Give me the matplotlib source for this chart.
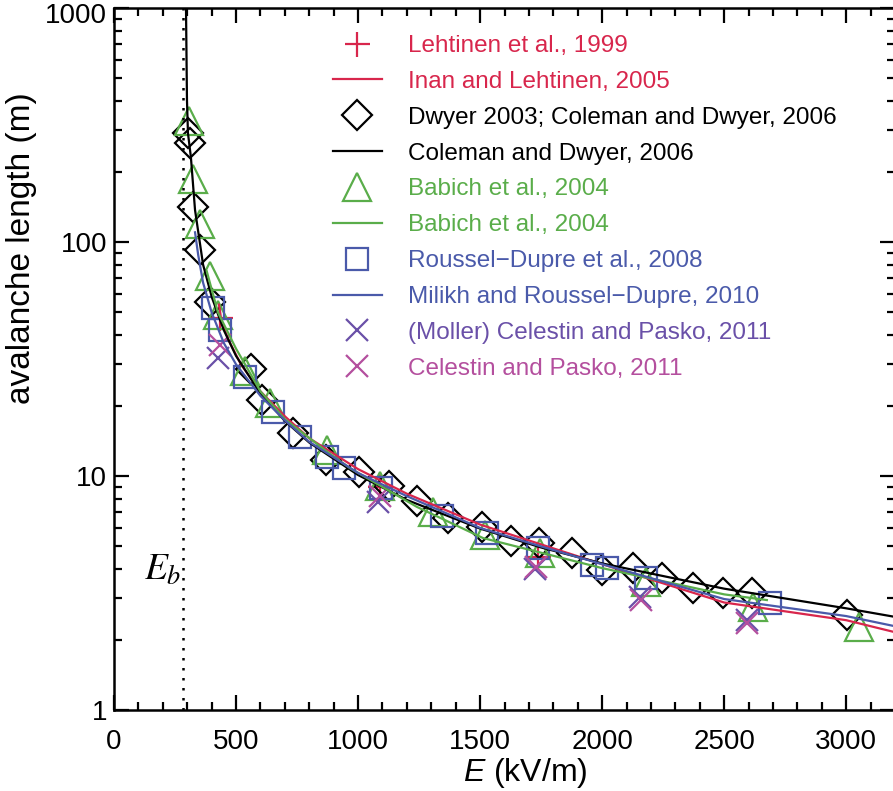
import matplotlib
matplotlib.use("Agg")
import matplotlib.pyplot as plt
import matplotlib.transforms as mtransforms
from matplotlib.ticker import FixedLocator, NullFormatter, LogLocator

plt.rcParams['font.family'] = ['Liberation Sans', 'DejaVu Sans']
plt.rcParams['mathtext.fontset'] = 'custom'
plt.rcParams['mathtext.it'] = 'Liberation Sans:italic'
plt.rcParams['mathtext.rm'] = 'Liberation Sans'

# ---- data (E in kV/m, avalanche length in m) ----
lehtinen_E = [434, 1090, 1737]
lehtinen_L = [47.4, 8.98, 4.51]

inan_E = [430, 440, 470, 520, 600, 700, 800, 1000, 1200, 1500, 1750, 2000, 2500, 3000, 3200]
inan_L = [54, 46, 38, 30, 23, 18, 14.5, 10.7, 8.4, 6.2, 5.1, 4.2, 2.88, 2.42, 2.15]

dwyer_E = [303, 311, 324, 352, 393, 561, 606, 733, 870, 1004, 1127, 1241, 1368, 1508,
           1626, 1741, 1876, 2000, 2126, 2245, 2372, 2495, 2614, 3003]
dwyer_L = [292, 265, 141, 92, 55.4, 28.7, 21.1, 15.3, 11.7, 10.4, 9.06, 7.82, 6.62, 6.05,
           5.28, 5.17, 4.69, 3.97, 4.05, 3.67, 3.32, 3.16, 3.16, 2.55]

coleman_E = [295, 299, 303, 315, 332, 365, 401, 450, 500, 600, 700, 800, 1000, 1200,
             1500, 1750, 2000, 2500, 3000, 3200]
coleman_L = [1000, 404, 292, 231, 137, 80, 58, 42, 32.6, 22.5, 17.2, 13.9, 10.1, 7.9,
             5.96, 4.95, 4.23, 3.3, 2.72, 2.5]

babich_pts_E = [307, 324, 352, 393, 426, 537, 639, 873, 1090, 1307, 1520, 1745, 2180, 2618, 3052]
babich_pts_L = [329, 186, 119, 71.6, 48.7, 28, 20.5, 12.9, 9.06, 7.02, 5.6, 4.69, 3.52, 2.75, 2.26]

babich_line_E = [380, 426, 500, 537, 600, 700, 873, 967, 1241, 1512, 1786, 2000, 2500, 2675]
babich_line_L = [75, 50, 35, 30, 23, 17.5, 12.7, 10.8, 7.38, 5.43, 4.6, 4.04, 3.12, 2.95]

roussel_E = [406, 434, 537, 651, 762, 873, 942, 1094, 1344, 1528, 1737, 1958, 2020, 2180, 2687]
roussel_L = [52.2, 42.1, 26.5, 18.8, 14.7, 12.1, 10.8, 8.89, 6.75, 5.71, 4.92, 4.17, 4.04, 3.67, 2.87]

milikh_E = [332, 345, 365, 400, 450, 500, 600, 700, 800, 1000, 1200, 1500, 1750, 2000, 2500, 3000, 3200]
milikh_L = [110, 88, 67, 50, 37, 30, 22, 17.3, 14, 10.3, 8.2, 6.0, 5.0, 4.2, 2.98, 2.52, 2.28]

moller_E = [426, 1082, 1725, 2155, 2593]
moller_L = [31.9, 7.74, 4.0, 3.04, 2.42]

celestin_E = [434, 1090, 1728, 2158, 2595]
celestin_L = [36.3, 8.2, 4.1, 2.95, 2.35]

E_b = 283

x_ticks = [0, 500, 1000, 1500, 2000, 2500, 3000]
y_ticks = [1, 10, 100, 1000]
y_ticklabels = ['1', '10', '100', '1000']

labels = ["Lehtinen et al., 1999", "Inan and Lehtinen, 2005",
          "Dwyer 2003; Coleman and Dwyer, 2006", "Coleman and Dwyer, 2006",
          "Babich et al., 2004", "Babich et al., 2004",
          "Roussel\u2212Dupre et al., 2008", "Milikh and Roussel\u2212Dupre, 2010",
          "(Moller) Celestin and Pasko, 2011", "Celestin and Pasko, 2011"]

RED = "#d8264c"
BLACK = "#000000"
GREEN = "#5aad4a"
BLUE = "#4a5aaa"
PURPLE = "#6a50a8"
MAGENTA = "#b44f9e"

W, H = 893, 791
fig = plt.figure(figsize=(W / 100, H / 100), dpi=100)
ax = fig.add_axes([114 / W, 81 / H, 781 / W, 702 / H])

mew = 1.6
lw = 1.6
h_le = ax.plot(lehtinen_E, lehtinen_L, ls='none', marker='+', ms=18, mew=mew, color=RED, label=labels[0])[0]
h_dw = ax.plot(dwyer_E, dwyer_L, ls='none', marker='D', ms=15.5, mew=mew, mfc='none', mec=BLACK, color=BLACK, label=labels[2])[0]
h_ba = ax.plot(babich_pts_E, babich_pts_L, ls='none', marker='^', ms=20, mew=mew, mfc='none', mec=GREEN, color=GREEN, label=labels[4])[0]
h_ro = ax.plot(roussel_E, roussel_L, ls='none', marker='s', ms=15.5, mew=mew, mfc='none', mec=BLUE, color=BLUE, label=labels[6])[0]
h_mo = ax.plot(moller_E, moller_L, ls='none', marker='x', ms=16, mew=mew, color=PURPLE, label=labels[8])[0]
h_ce = ax.plot(celestin_E, celestin_L, ls='none', marker='x', ms=16, mew=mew, color=MAGENTA, label=labels[9])[0]

h_in = ax.plot(inan_E, inan_L, '-', lw=lw, color=RED, label=labels[1])[0]
h_co = ax.plot(coleman_E, coleman_L, '-', lw=lw, color=BLACK, label=labels[3])[0]
h_bl = ax.plot(babich_line_E, babich_line_L, '-', lw=lw, color=GREEN, label=labels[5])[0]
h_mi = ax.plot(milikh_E, milikh_L, '-', lw=lw, color=BLUE, label=labels[7])[0]

ax.axvline(E_b, color='black', ls=(0, (1, 3)), lw=1.8)

ax.set_yscale('log')
ax.set_xlim(0, 3200)
ax.set_ylim(1, 1000)

ax.xaxis.set_major_locator(FixedLocator(x_ticks))
ax.xaxis.set_minor_locator(FixedLocator(list(range(0, 3201, 100))))
ax.set_yticks(y_ticks)
ax.set_yticklabels(y_ticklabels)
ax.yaxis.set_minor_locator(LogLocator(base=10, subs=range(2, 10)))
ax.yaxis.set_minor_formatter(NullFormatter())

ax.tick_params(which='both', direction='in', top=True, right=True, width=1.6, labelsize=20)
ax.tick_params(which='major', length=11)
ax.tick_params(axis='x', which='major', pad=14)
ax.tick_params(axis='y', which='major', pad=5)
ax.tick_params(which='minor', length=6)
for s in ax.spines.values():
    s.set_linewidth(1.8)

# nudge the top y label ("1000") down so it stays inside the picture
top_lbl = ax.yaxis.get_major_ticks()[-1].label1
top_lbl.set_transform(top_lbl.get_transform() +
                      mtransforms.ScaledTranslation(0, -5 / 100, fig.dpi_scale_trans))

fig.text(22 / W, 1 - 248 / H, 'avalanche length (m)', fontsize=24, rotation=90,
         ha='center', va='center')
fig.text(525 / W, 1 - 773 / H, '$E$ (kV/m)', fontsize=23, ha='center', va='center')

ax.text(200, 3.97, '$E_b$', fontsize=27, ha='center', va='center',
        math_fontfamily='stix')

handles = [h_le, h_in, h_dw, h_co, h_ba, h_bl, h_ro, h_mi, h_mo, h_ce]
leg = ax.legend(handles=handles, labels=labels, loc='upper left',
                bbox_to_anchor=(333 / W, 1 - 35 / H), bbox_transform=fig.transFigure,
                frameon=False, fontsize=17.5, handlelength=2.0, handletextpad=1.07,
                labelspacing=0.57, borderpad=0, borderaxespad=0, labelcolor='linecolor')

fig.savefig('out.png', dpi=100)
